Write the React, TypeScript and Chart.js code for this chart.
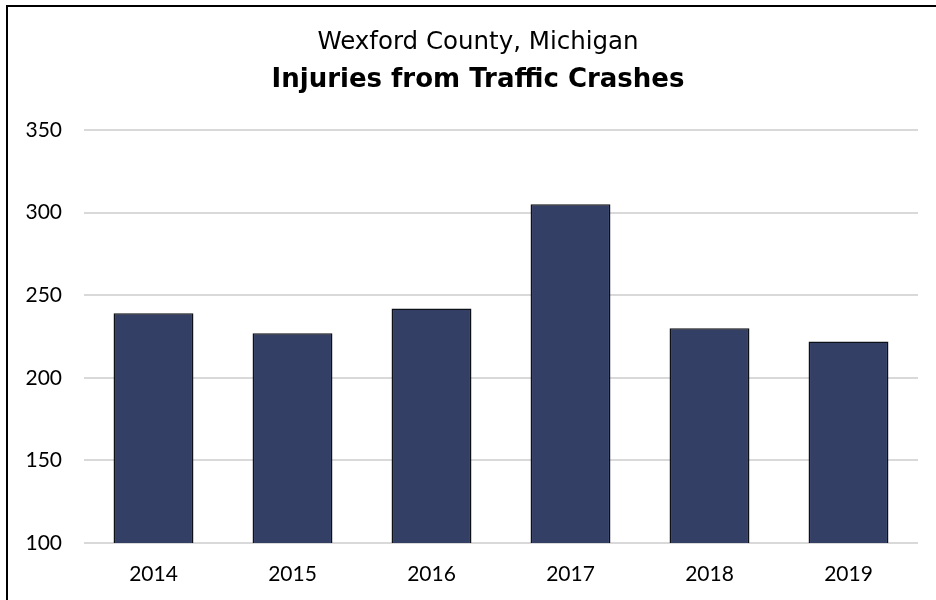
import React, { useEffect, useRef } from "react";
import { Chart, registerables } from "chart.js";

Chart.register(...registerables);

const categories = ["2014", "2015", "2016", "2017", "2018", "2019"];
const injuries = [239, 227, 242, 305, 230, 222];
const titleLine1 = "Wexford County, Michigan";
const titleLine2 = "Injuries from Traffic Crashes";
const yMin = 100;
const yMax = 350;
const yStep = 50;

const twoLineTitle = {
  id: "twoLineTitle",
  afterDraw(chart: any) {
    const ctx = chart.ctx;
    const cx = 478;
    ctx.save();
    ctx.fillStyle = "#000";
    ctx.textAlign = "center";
    ctx.textBaseline = "middle";
    ctx.font = "normal 24.5px 'DejaVu Sans'";
    ctx.fillText(titleLine1, cx, 43);
    ctx.font = "bold 26px 'DejaVu Sans'";
    ctx.fillText(titleLine2, cx, 80);
    ctx.restore();
  },
};

export default function App() {
  const canvasRef = useRef<HTMLCanvasElement | null>(null);

  useEffect(() => {
    const canvas = canvasRef.current;
    if (!canvas) return;
    const chart = new Chart(canvas, {
      type: "bar",
      data: {
        labels: categories,
        datasets: [
          {
            label: "Injuries",
            data: injuries,
            backgroundColor: "#343F66",
            borderColor: "#0E1018",
            borderWidth: 1.5,
            borderSkipped: false,
            categoryPercentage: 1,
            barPercentage: 0.575,
          },
        ],
      },
      plugins: [twoLineTitle],
      options: {
        responsive: false,
        animation: false,
        devicePixelRatio: 1,
        layout: { padding: { left: 0, right: 18, top: 130, bottom: 0 } },
        plugins: {
          legend: { display: false },
          tooltip: { enabled: false },
          title: { display: false },
        },
        scales: {
          x: {
            grid: { display: false, drawTicks: false },
            border: { display: false },
            ticks: {
              color: "#000",
              font: { family: "Lato", size: 21 },
              padding: 19,
              maxRotation: 0,
            },
            afterFit: (scale: any) => {
              scale.height = 57;
            },
          },
          y: {
            min: yMin,
            max: yMax,
            grid: { color: "#D9D9D9", lineWidth: 2, drawTicks: false },
            border: { display: false },
            ticks: {
              stepSize: yStep,
              color: "#000",
              font: { family: "Lato", size: 21 },
              padding: 22,
            },
            afterFit: (scale: any) => {
              scale.width = 84;
            },
          },
        },
      },
    });
    return () => chart.destroy();
  }, []);

  return (
    <div
      style={{
        position: "fixed",
        left: 0,
        top: 0,
        width: 936,
        height: 600,
        overflow: "hidden",
        background: "#fff",
      }}
    >
      <canvas ref={canvasRef} width={936} height={600} style={{ position: "absolute", left: 0, top: 0 }} />
      <div
        style={{
          position: "absolute",
          left: 6,
          top: 5,
          width: 1000,
          height: 700,
          border: "2px solid #000",
          pointerEvents: "none",
        }}
      />
    </div>
  );
}
